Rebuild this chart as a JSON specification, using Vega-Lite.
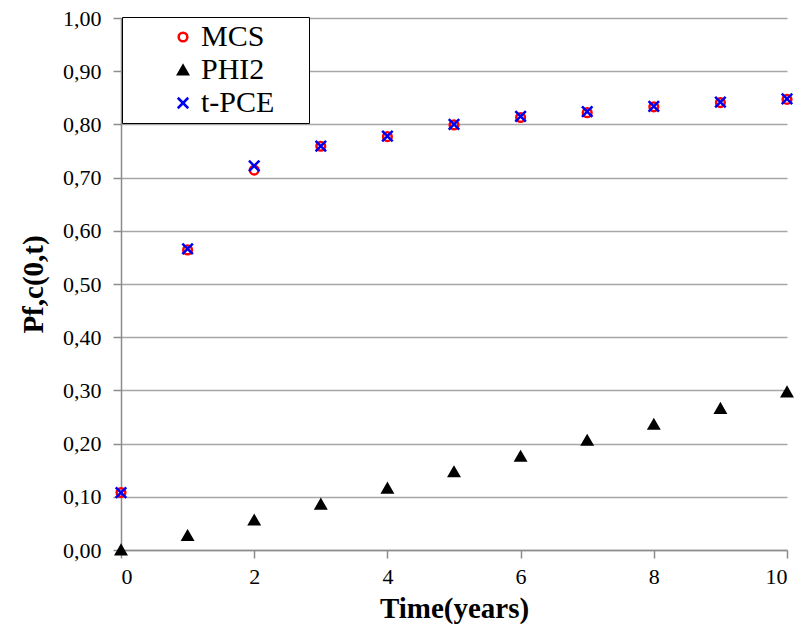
{
  "$schema": "https://vega.github.io/schema/vega-lite/v6.json",
  "width": 666,
  "height": 532,
  "autosize": "none",
  "padding": {"left": 121, "top": 18, "right": 22, "bottom": 78},
  "background": "white",
  "data": {
    "values": [
      {"t": 0, "series": "MCS", "pf": 0.108},
      {"t": 1, "series": "MCS", "pf": 0.564},
      {"t": 2, "series": "MCS", "pf": 0.714},
      {"t": 3, "series": "MCS", "pf": 0.759},
      {"t": 4, "series": "MCS", "pf": 0.777},
      {"t": 5, "series": "MCS", "pf": 0.799},
      {"t": 6, "series": "MCS", "pf": 0.813},
      {"t": 7, "series": "MCS", "pf": 0.822},
      {"t": 8, "series": "MCS", "pf": 0.833},
      {"t": 9, "series": "MCS", "pf": 0.841},
      {"t": 10, "series": "MCS", "pf": 0.847},
      {"t": 0, "series": "PHI2", "pf": 0.0},
      {"t": 1, "series": "PHI2", "pf": 0.027},
      {"t": 2, "series": "PHI2", "pf": 0.056},
      {"t": 3, "series": "PHI2", "pf": 0.086},
      {"t": 4, "series": "PHI2", "pf": 0.116},
      {"t": 5, "series": "PHI2", "pf": 0.147},
      {"t": 6, "series": "PHI2", "pf": 0.176},
      {"t": 7, "series": "PHI2", "pf": 0.206},
      {"t": 8, "series": "PHI2", "pf": 0.236},
      {"t": 9, "series": "PHI2", "pf": 0.266},
      {"t": 10, "series": "PHI2", "pf": 0.297},
      {"t": 0, "series": "t-PCE", "pf": 0.108},
      {"t": 1, "series": "t-PCE", "pf": 0.566},
      {"t": 2, "series": "t-PCE", "pf": 0.722},
      {"t": 3, "series": "t-PCE", "pf": 0.759},
      {"t": 4, "series": "t-PCE", "pf": 0.778},
      {"t": 5, "series": "t-PCE", "pf": 0.800},
      {"t": 6, "series": "t-PCE", "pf": 0.815},
      {"t": 7, "series": "t-PCE", "pf": 0.824},
      {"t": 8, "series": "t-PCE", "pf": 0.834},
      {"t": 9, "series": "t-PCE", "pf": 0.842},
      {"t": 10, "series": "t-PCE", "pf": 0.848}
    ]
  },
  "mark": {"type": "point", "strokeWidth": 2.5, "opacity": 1, "clip": false},
  "encoding": {
    "x": {
      "field": "t", "type": "quantitative",
      "scale": {"domain": [0, 10], "nice": false, "zero": false},
      "axis": {
        "values": [0, 2, 4, 6, 8, 10],
        "grid": false,
        "title": "Time(years)",
        "titleFont": "Liberation Serif", "titleFontSize": 29, "titleFontWeight": "bold", "titleColor": "black",
        "titlePadding": 7,
        "labelFont": "Liberation Serif", "labelFontSize": 22, "labelColor": "black", "labelPadding": 8,
        "domainColor": "#8c8c8c", "domainWidth": 1.5,
        "tickColor": "#8c8c8c", "tickWidth": 1.5, "tickSize": 8
      }
    },
    "y": {
      "field": "pf", "type": "quantitative",
      "scale": {"domain": [0, 1], "nice": false},
      "axis": {
        "values": [0, 0.1, 0.2, 0.3, 0.4, 0.5, 0.6, 0.7, 0.8, 0.9, 1.0],
        "labelExpr": "replace(format(datum.value, '.2f'), '.', ',')",
        "grid": true, "gridColor": "#a6a6a6", "gridWidth": 1.5,
        "title": "Pf,c(0,t)",
        "titleFont": "Liberation Serif", "titleFontSize": 29, "titleFontWeight": "bold", "titleColor": "black",
        "titlePadding": 14,
        "labelFont": "Liberation Serif", "labelFontSize": 22, "labelColor": "black", "labelPadding": 12,
        "domainColor": "#8c8c8c", "domainWidth": 1.5,
        "tickColor": "#8c8c8c", "tickWidth": 1.5, "tickSize": 8
      }
    },
    "shape": {
      "field": "series", "type": "nominal",
      "scale": {"domain": ["MCS", "PHI2", "t-PCE"], "range": ["circle", "triangle-up", "M-1,-1L1,1M-1,1L1,-1"]},
      "legend": {
        "title": null,
        "orient": "none", "legendX": 1, "legendY": -1,
        "fillColor": "white", "strokeColor": "black",
        "padding": 5, "rowPadding": 3,
        "symbolOffset": 41,
        "labelFont": "Liberation Serif", "labelFontSize": 30, "labelColor": "black",
        "labelOffset": 3,
        "labelExpr": "datum.label + '\u00a0\u2800'",
        "symbolStrokeWidth": 2.5
      }
    },
    "stroke": {
      "field": "series", "type": "nominal",
      "scale": {"domain": ["MCS", "PHI2", "t-PCE"], "range": ["#ff0000", "black", "#0000ee"]}
    },
    "fill": {
      "field": "series", "type": "nominal",
      "scale": {"domain": ["MCS", "PHI2", "t-PCE"], "range": ["transparent", "black", "transparent"]}
    },
    "size": {
      "field": "series", "type": "nominal",
      "scale": {"domain": ["MCS", "PHI2", "t-PCE"], "range": [75, 110, 80]}
    }
  },
  "config": {"view": {"stroke": null}}
}
